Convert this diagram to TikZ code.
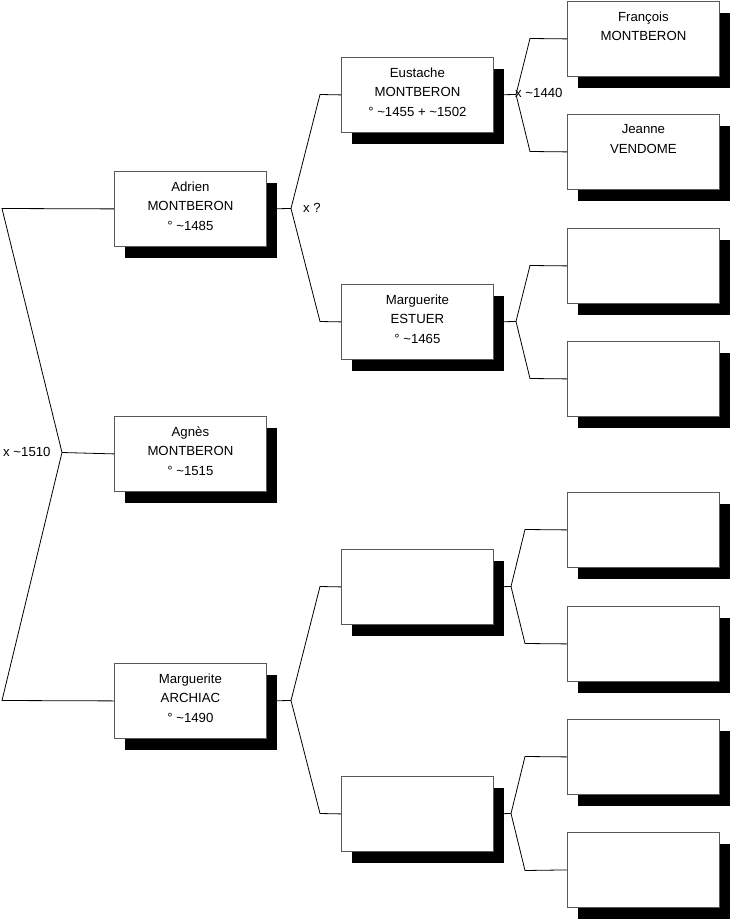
\documentclass[tikz,border=0pt]{standalone}
\usepackage{fontspec}
\setmainfont{Liberation Sans}
\usetikzlibrary{shadows}
\begin{document}
\begin{tikzpicture}[x=1pt,y=-1pt,
  pbox/.style={draw=black!65,line width=0.8pt,fill=white,minimum width=152pt,minimum height=75pt,inner sep=0pt,anchor=north west,
    drop shadow={shadow xshift=11pt,shadow yshift=-12pt,fill=black,opacity=1}},
  ptext/.style={anchor=north,align=center,inner sep=0pt,yshift=-10.5pt,font=\fontsize{13.2}{19.5}\selectfont},
  link/.style={draw=black,line width=0.8pt},
  mlabel/.style={anchor=west,inner sep=0pt,font=\fontsize{13.2}{15}\selectfont}]
\useasboundingbox (0,0) rectangle (731,920);
% bend points
\coordinate (b0a) at (2,208.5);
\coordinate (v0) at (62,452.5);
\coordinate (b0b) at (2,700.5);
\coordinate (vA) at (291,208.5);
\coordinate (bAa) at (320,94.5);
\coordinate (bAb) at (320,321.5);
\coordinate (vM) at (291,700.5);
\coordinate (bMa) at (320,586.5);
\coordinate (bMb) at (320,813.5);
\coordinate (vE) at (516,94.5);
\coordinate (bEa) at (530,38.5);
\coordinate (bEb) at (530,151.5);
\coordinate (vS) at (516,321.5);
\coordinate (bSa) at (530,265.5);
\coordinate (bSb) at (530,378.5);
\coordinate (vL1) at (511,586.5);
\coordinate (bL1a) at (525,529.5);
\coordinate (bL1b) at (525,643.5);
\coordinate (vL2) at (511,813.5);
\coordinate (bL2a) at (525,756.5);
\coordinate (bL2b) at (525,870.5);
% boxes
\node[pbox] (A) at (114,171) {};
\node[pbox] (G) at (114,416) {};
\node[pbox] (M) at (114,663) {};
\node[pbox] (E) at (341,57) {};
\node[pbox] (S) at (341,284) {};
\node[pbox] (L1) at (341,549) {};
\node[pbox] (L2) at (341,776) {};
\node[pbox] (F) at (567,1) {};
\node[pbox] (J) at (567,114) {};
\node[pbox] (R3) at (567,228) {};
\node[pbox] (R4) at (567,341) {};
\node[pbox] (R5) at (567,492) {};
\node[pbox] (R6) at (567,606) {};
\node[pbox] (R7) at (567,719) {};
\node[pbox] (R8) at (567,832) {};
% connectors
\draw[link] (A.west) -- (b0a) -- (v0) -- (b0b) -- (M.west);
\draw[link] (v0) -- (G.west);
\draw[link] (A.east) -- (vA);
\draw[link] (E.west) -- (bAa) -- (vA) -- (bAb) -- (S.west);
\draw[link] (M.east) -- (vM);
\draw[link] (L1.west) -- (bMa) -- (vM) -- (bMb) -- (L2.west);
\draw[link] (E.east) -- (vE);
\draw[link] (F.west) -- (bEa) -- (vE) -- (bEb) -- (J.west);
\draw[link] (S.east) -- (vS);
\draw[link] (R3.west) -- (bSa) -- (vS) -- (bSb) -- (R4.west);
\draw[link] (L1.east) -- (vL1);
\draw[link] (R5.west) -- (bL1a) -- (vL1) -- (bL1b) -- (R6.west);
\draw[link] (L2.east) -- (vL2);
\draw[link] (R7.west) -- (bL2a) -- (vL2) -- (bL2b) -- (R8.west);
% texts
\node[ptext] (tA) at (A.north) {Adrien\\MONTBERON\\° \textasciitilde1485};
\node[ptext] (tG) at (G.north) {Agnès\\MONTBERON\\° \textasciitilde1515};
\node[ptext] (tM) at (M.north) {Marguerite\\ARCHIAC\\° \textasciitilde1490};
\node[ptext] (tE) at (E.north) {Eustache\\MONTBERON\\° \textasciitilde1455 + \textasciitilde1502};
\node[ptext] (tS) at (S.north) {Marguerite\\ESTUER\\° \textasciitilde1465};
\node[ptext] (tF) at (F.north) {François\\MONTBERON};
\node[ptext] (tJ) at (J.north) {Jeanne\\VENDOME};
% marriage labels
\node[mlabel] (m0) at (3,452) {x \textasciitilde1510};
\node[mlabel] (mA) at (303,207.5) {x ?};
\node[mlabel] (mE) at (515,92.5) {x \textasciitilde1440};
\end{tikzpicture}
\end{document}
